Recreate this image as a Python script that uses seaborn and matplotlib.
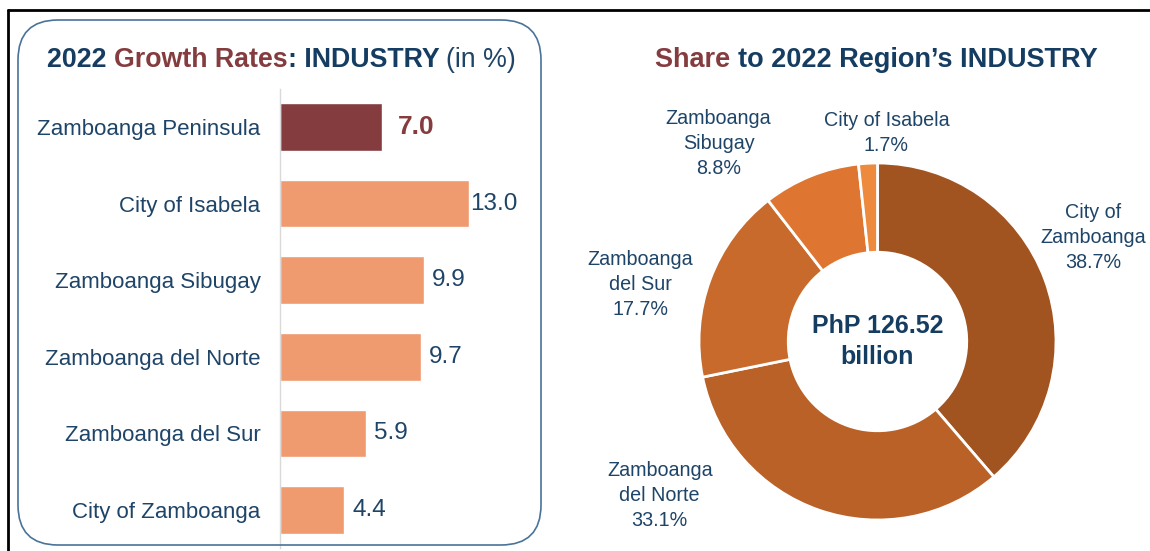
import matplotlib.pyplot as plt
import seaborn as sns
from matplotlib.patches import FancyBboxPatch
from matplotlib.lines import Line2D
from matplotlib.text import Annotation

# Left panel: growth rates by province/city
regions = ["Zamboanga Peninsula", "City of Isabela", "Zamboanga Sibugay",
           "Zamboanga del Norte", "Zamboanga del Sur", "City of Zamboanga"]
growth = [7.0, 13.0, 9.9, 9.7, 5.9, 4.4]
bar_colors = ["#843C3F", "#F09A70", "#F09A70", "#F09A70", "#F09A70", "#F09A70"]
label_pad = [12, 1, 6, 6, 6, 6]

# Right panel: share to the region's industry
share_labels = ["City of\nZamboanga", "Zamboanga\ndel Norte", "Zamboanga\ndel Sur",
                "Zamboanga\nSibugay", "City of Isabela"]
shares = [38.7, 33.1, 17.7, 8.8, 1.7]
pie_colors = ["#A15320", "#B96126", "#C86A2B", "#DE7530", "#EE8A3D"]
label_pos = [(1.21, 0.58), (-1.22, -0.86), (-1.33, 0.32), (-0.89, 1.11), (0.05, 1.17)]
total_text = "PhP 126.52\nbillion"

NAVY = "#1E4468"
NAVY_DARK = "#153D62"
BROWN = "#843C3F"

W, H = 1150, 551

sns.set_theme(style="white")
plt.rcParams["font.family"] = ["Liberation Sans", "DejaVu Sans"]

fig = plt.figure(figsize=(W / 100, H / 100), dpi=100)


def multi_text(x, y, parts, size):
    """Write coloured pieces of text one after another on the same baseline."""
    s, color, weight = parts[0]
    prev = fig.text(x, y, s, color=color, fontweight=weight, fontsize=size, va="baseline")
    for s, color, weight in parts[1:]:
        prev = fig.add_artist(Annotation(s, xy=(1, 0), xycoords=prev, va="bottom", ha="left",
                                         color=color, fontweight=weight, fontsize=size))


# frame lines and rounded box
fig.add_artist(Line2D([8 / W, 1], [1 - 10 / H, 1 - 10 / H], color="black", lw=2,
                      transform=fig.transFigure))
fig.add_artist(Line2D([8 / W, 8 / W], [0, 1 - 10 / H], color="black", lw=2,
                      transform=fig.transFigure))
fig.add_artist(FancyBboxPatch((0.18, 0.06), 5.23, 5.25, boxstyle="round,pad=0,rounding_size=0.4",
                              transform=fig.dpi_scale_trans, facecolor="none",
                              edgecolor="#4A7398", lw=1.2))

# bar chart
ax = fig.add_axes([280 / W, (H - 548.3) / H, 261 / W, 459.6 / H])
ax.patch.set_alpha(0)
sns.barplot(x=growth, y=regions, hue=regions, palette=bar_colors, legend=False,
            orient="h", width=0.62, saturation=1, ax=ax)
ax.set_xlim(0, 18)
ax.set_ylim(5.5, -0.5)
ax.set(xlabel="", ylabel="", xticks=[])
sns.despine(ax=ax, left=False, bottom=True)
ax.spines["left"].set_color("#D9D9D9")
ax.spines["left"].set_linewidth(1)
ax.tick_params(axis="y", length=0, pad=14, labelsize=16, labelcolor=NAVY)

for i, cont in enumerate(ax.containers):
    if i == 0:
        ax.bar_label(cont, fmt="%.1f", padding=label_pad[i], fontsize=19, fontweight="bold",
                     color=BROWN)
    else:
        ax.bar_label(cont, fmt="%.1f", padding=label_pad[i], fontsize=17.5, color=NAVY)

multi_text(47 / W, 1 - 67 / H, [("2022 ", NAVY_DARK, "bold"),
                                ("Growth Rates", BROWN, "bold"),
                                (": INDUSTRY ", NAVY_DARK, "bold"),
                                ("(in %)", NAVY, "normal")], 19.3)

# donut chart
pax = fig.add_axes([699 / W, (H - 520) / H, 357 / W, 357 / H])
pax.pie(shares, colors=pie_colors, startangle=90, counterclock=False,
        wedgeprops=dict(width=0.5, edgecolor="white", linewidth=2))
pax.set_xlim(-1, 1)
pax.set_ylim(-1, 1)
pax.set_aspect("equal")
pax.axis("off")

for lab, val, (x, y) in zip(share_labels, shares, label_pos):
    pax.text(x, y, f"{lab}\n{val:.1f}%", ha="center", va="center", fontsize=14.2,
             color=NAVY, linespacing=1.4)
pax.text(0, 0, total_text, ha="center", va="center", fontsize=18, fontweight="bold",
         color=NAVY_DARK, linespacing=1.35)

multi_text(655 / W, 1 - 67 / H, [("Share ", BROWN, "bold"),
                                 ("to 2022 Region\u2019s INDUSTRY", NAVY_DARK, "bold")], 19.5)

fig.savefig("out.png", dpi=100)
